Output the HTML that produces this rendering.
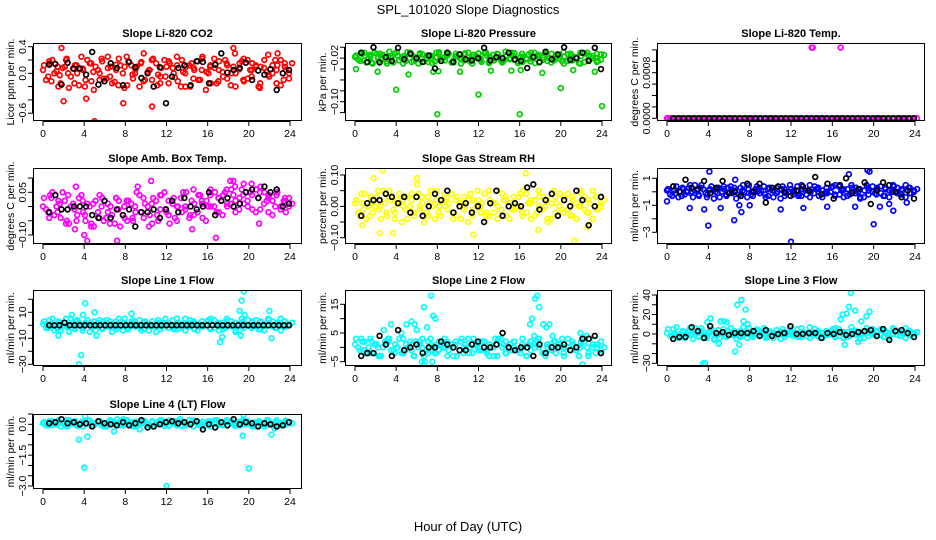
<!DOCTYPE html>
<html><head><meta charset="utf-8"><style>
html,body{margin:0;padding:0;background:#fff}
svg{display:block;font-family:"Liberation Sans",sans-serif}
</style></head><body>
<svg id="c" width="936" height="540" viewBox="0 0 936 540">
<text x="468" y="14" text-anchor="middle" font-size="13">SPL_101020  Slope Diagnostics</text>
<text x="468" y="531" text-anchor="middle" font-size="13">Hour of Day (UTC)</text>
</svg>
<script>
// ---- data ----
const hourTicks = [0,4,8,12,16,20,24];
const titles = ["Slope Li-820 CO2","Slope Li-820 Pressure","Slope Li-820 Temp.","Slope Amb. Box Temp.","Slope Gas Stream RH","Slope Sample Flow","Slope Line 1 Flow","Slope Line 2 Flow","Slope Line 3 Flow","Slope Line 4 (LT) Flow"];
const yTitles = ["Licor ppm per min.","kPa per min.","degrees C per min.","degrees C per min.","percent per min.","ml/min per min.","ml/min per min.","ml/min per min.","ml/min per min.","ml/min per min."];
const colors = ["#ff0000","#00cd00","#ff00ff","#ff00ff","#ffff00","#0000ff","#00ffff","#00ffff","#00ffff","#00ffff"];
const yTickValues = [[0.4,0.2,0,-0.2,-0.4,-0.6],[0,-0.02,-0.04,-0.06,-0.08,-0.1,-0.12],[0,0.0002,0.0004,0.0006,0.0008,0.001,0.0012],[0.1,0.05,0,-0.05,-0.1],[0.1,0.05,0,-0.05,-0.1],[1,0,-1,-2,-3],[20,10,0,-10,-20,-30],[15,10,5,0,-5],[40,30,20,10,0,-10,-20,-30],[0.5,0,-0.5,-1,-1.5,-2,-2.5,-3]];
const yTickLabels = [[["0.4",0.4],["0.0",0],["-0.6",-0.6]],[["-0.02",-0.02],["-0.10",-0.1]],[["0.0000",0],["0.0008",0.0008]],[["0.05",0.05],["-0.10",-0.1]],[["0.10",0.1],["0.00",0],["-0.10",-0.1]],[["1",1],["-1",-1],["-3",-3]],[["10",10],["-10",-10],["-30",-30]],[["15",15],["5",5],["-5",-5]],[["40",40],["20",20],["0",0],["-30",-30]],[["0.0",0],["-1.5",-1.5],["-3.0",-3]]];

const seriesA = [
[0.12,-0.05,0.2,0.03,-0.15,0.1,-0.22,0.07,0.0,0.25,-0.1,0.15,-0.25,0.05,0.18,-0.08,0.1,-0.13,0.22,0.0,-0.18,0.12,0.06,-0.2,0.3,0.02,-0.1,0.15,-0.05,0.2,-0.15,0.08,0.25,-0.2,0.0,0.12,-0.08,0.18,0.05,-0.25,0.1,0.22,-0.12,0.02,0.15,-0.18,0.3,0.06,-0.1,0.2,-0.05,0.12,-0.22,0.08,0.28,0.0,-0.15,0.2,0.1,-0.08],
[-0.015,-0.025,-0.01,-0.02,-0.03,-0.012,-0.022,-0.018,-0.008,-0.028,-0.015,-0.02,-0.025,-0.01,-0.018,-0.03,-0.013,-0.022,-0.017,-0.026,-0.009,-0.02,-0.015,-0.028,-0.012,-0.02,-0.024,-0.01,-0.03,-0.016,-0.021,-0.011,-0.027,-0.014,-0.019,-0.025,-0.008,-0.022,-0.016,-0.029,-0.012,-0.02,-0.026,-0.01,-0.018,-0.023,-0.013,-0.028,-0.017,-0.021,-0.009,-0.025,-0.015,-0.019,-0.03,-0.011,-0.022,-0.016,-0.027,-0.013],
[0,0,0,0,0,0,0,0,0,0,0,0,0,0,0,0,0,0,0,0,0,0,0,0,0,0,0,0,0,0,0,0,0,0,0,0,0,0,0,0,0,0,0,0,0,0,0,0,0,0,0,0,0,0,0,0,0,0,0,0],
[0.03,-0.02,0.05,0.0,-0.04,0.02,-0.06,0.01,-0.03,0.04,-0.05,0.0,-0.07,-0.02,0.03,-0.04,0.0,-0.06,0.02,-0.03,-0.05,0.01,-0.02,0.04,-0.04,0.0,-0.06,0.02,-0.01,0.05,-0.03,0.01,-0.05,0.03,0.0,-0.04,0.06,-0.02,0.02,-0.05,0.04,0.0,0.03,-0.03,0.06,0.01,0.07,-0.01,0.04,0.02,0.08,-0.02,0.05,0.01,0.03,-0.03,0.04,0.0,0.02,0.03],
[0.02,-0.03,0.04,0.0,-0.02,0.03,-0.04,0.01,0.05,-0.01,0.02,-0.05,0.03,0.0,-0.03,0.04,0.01,-0.02,0.05,-0.04,0.0,0.02,-0.01,0.04,-0.03,0.01,0.03,-0.05,0.02,0.0,-0.02,0.04,-0.03,0.01,0.05,-0.01,0.02,-0.04,0.03,0.0,-0.02,0.04,0.01,-0.03,0.05,-0.01,0.02,-0.04,0.03,0.0,-0.02,0.04,-0.03,0.01,0.05,-0.01,0.02,-0.04,0.03,0.0],
[0.2,-0.3,0.4,0.0,-0.2,0.3,-0.4,0.1,0.5,-0.1,0.2,-0.5,0.3,0.0,-0.3,0.4,0.1,-0.2,0.5,-0.4,0.0,0.2,-0.1,0.4,-0.3,0.1,0.3,-0.5,0.2,0.0,-0.2,0.4,-0.3,0.1,0.5,-0.1,0.2,-0.4,0.3,0.0,-0.2,0.4,0.1,-0.3,0.5,-0.1,0.2,-0.4,0.3,0.0,-0.2,0.4,-0.3,0.1,0.5,-0.1,0.2,-0.4,0.3,0.0],
[3,-2,5,0,-4,2,-5,1,4,-1,2,-5,3,0,-3,4,1,-2,5,-4,0,2,-1,4,-3,1,3,-5,2,0,-2,4,-3,1,5,-1,2,-4,3,0,-2,4,1,-3,5,-1,2,-4,3,0,-2,4,-3,1,5,-1,2,-4,3,0],
[3,-1,2,0,-2,1,-3,2,3,-1,0,-2,1,2,-3,0,3,-1,1,-2,2,0,-3,1,2,-1,0,3,-2,1,-1,2,-3,0,1,3,-2,0,2,-1,1,-3,2,0,3,-2,1,-1,2,0,-2,3,1,-1,0,2,-3,1,0,2],
[5,-2,7,0,-4,3,-5,2,6,-1,3,-5,4,0,-3,6,1,-2,7,-4,0,3,-1,6,-3,1,4,-5,2,0,-2,5,-3,1,7,-1,2,-4,3,0,-2,5,1,-3,7,-1,2,-4,3,0,-2,5,-3,1,6,-1,2,-4,3,0],
[0.1,-0.05,0.15,0.0,-0.1,0.1,0.2,0.05,-0.08,0.12,0.0,0.18,-0.05,0.1,0.05,-0.1,0.15,0.0,0.08,-0.06,0.2,0.02,-0.1,0.12,0.05,-0.03,0.15,0.0,0.1,-0.08,0.18,0.05,-0.05,0.12,0.0,0.2,-0.1,0.08,0.03,-0.06,0.15,0.0,0.1,-0.05,0.2,0.05,-0.08,0.12,0.0,0.15,-0.03,0.1,0.05,-0.1,0.18,0.0,0.08,-0.05,0.12,0.05]
];
const seriesB = [
[-0.1,0.15,0.0,-0.2,0.08,0.22,-0.05,0.12,-0.18,0.05,0.2,-0.12,0.1,0.0,-0.08,0.25,-0.15,0.05,0.12,-0.22,0.18,-0.02,0.1,0.15,-0.1,0.05,0.22,-0.18,0.08,-0.05,0.15,0.0,-0.12,0.2,0.1,-0.2,0.05,-0.1,0.25,0.02,-0.15,0.08,0.18,-0.05,0.12,0.0,-0.2,0.15,0.22,-0.08,0.05,0.1,-0.15,0.2,-0.02,0.12,0.05,-0.18,0.15,0.0],
[-0.022,-0.012,-0.028,-0.017,-0.01,-0.025,-0.014,-0.03,-0.019,-0.011,-0.024,-0.016,-0.009,-0.027,-0.02,-0.013,-0.026,-0.015,-0.029,-0.01,-0.021,-0.018,-0.012,-0.025,-0.016,-0.03,-0.011,-0.023,-0.014,-0.02,-0.027,-0.009,-0.018,-0.024,-0.013,-0.028,-0.015,-0.02,-0.011,-0.026,-0.017,-0.022,-0.01,-0.029,-0.014,-0.019,-0.025,-0.012,-0.021,-0.016,-0.03,-0.013,-0.024,-0.018,-0.01,-0.027,-0.015,-0.02,-0.012,-0.023],
[0,0,0,0,0,0,0,0,0,0,0,0,0,0,0,0,0,0,0,0,0,0,0,0,0,0,0,0,0,0,0,0,0,0,0,0,0,0,0,0,0,0,0,0,0,0,0,0,0,0,0,0,0,0,0,0,0,0,0,0],
[-0.01,0.04,-0.03,0.02,0.05,-0.05,0.0,-0.08,0.03,-0.02,0.01,-0.06,0.02,0.04,-0.05,0.01,-0.03,0.03,-0.07,0.0,0.02,-0.04,0.05,-0.02,0.01,-0.07,0.03,-0.03,0.04,-0.01,-0.06,0.03,0.0,-0.02,0.05,-0.03,0.01,0.04,-0.04,0.02,0.0,0.05,-0.02,0.04,0.01,0.06,-0.02,0.03,0.08,0.0,0.04,0.06,-0.01,0.05,-0.02,0.02,0.06,-0.01,0.03,0.0],
[-0.02,0.01,-0.04,0.03,0.0,-0.01,0.05,-0.03,0.02,-0.02,0.04,0.0,-0.04,0.02,0.03,-0.01,-0.05,0.03,0.0,0.02,-0.03,0.04,0.01,-0.02,0.03,-0.04,0.0,0.02,-0.01,0.05,0.01,-0.03,0.02,-0.02,0.0,0.04,-0.03,0.01,-0.01,0.03,0.05,-0.02,-0.04,0.02,0.0,0.03,-0.05,0.01,-0.02,0.04,0.02,-0.01,0.03,-0.04,0.0,0.03,-0.02,0.05,-0.01,0.01],
[-0.2,0.1,-0.4,0.3,0.0,-0.1,0.5,-0.3,0.2,-0.2,0.4,0.0,-0.4,0.2,0.3,-0.1,-0.5,0.3,0.0,0.2,-0.3,0.4,0.1,-0.2,0.3,-0.4,0.0,0.2,-0.1,0.5,0.1,-0.3,0.2,-0.2,0.0,0.4,-0.3,0.1,-0.1,0.3,0.5,-0.2,-0.4,0.2,0.0,0.3,-0.5,0.1,-0.2,0.4,0.2,-0.1,0.3,-0.4,0.0,0.3,-0.2,0.5,-0.1,0.1],
[-2,1,-4,3,0,-1,5,-3,2,-2,4,0,-4,2,3,-1,-5,3,0,2,-3,4,1,-2,3,-4,0,2,-1,5,1,-3,2,-2,0,4,-3,1,-1,3,5,-2,-4,2,0,3,-5,1,-2,4,2,-1,3,-4,0,3,-2,5,-1,1],
[0,2,-2,3,1,-3,0,2,-1,1,3,-2,0,-1,2,1,-3,2,0,-2,1,3,-1,0,-3,2,1,-2,3,0,2,-1,1,-3,3,0,-2,1,2,-1,0,-3,2,1,3,-2,0,-1,2,1,-3,0,2,-1,1,3,-2,0,1,-1],
[-2,1,-4,3,0,-1,6,-3,2,-2,5,0,-4,2,3,-1,-5,3,0,2,-3,5,1,-2,3,-4,0,2,-1,6,1,-3,2,-2,0,5,-3,1,-1,3,6,-2,-4,2,0,3,-5,1,-2,5,2,-1,3,-4,0,3,-2,6,-1,1],
[-0.05,0.12,0.0,0.18,0.05,-0.1,0.08,0.15,-0.03,0.1,0.2,-0.06,0.05,0.12,-0.1,0.0,0.15,0.08,-0.05,0.18,0.02,0.1,-0.08,0.05,0.15,0.0,-0.1,0.12,0.2,0.03,-0.05,0.1,0.15,-0.08,0.05,0.0,0.18,-0.03,0.12,0.08,-0.1,0.2,0.05,0.0,-0.06,0.15,0.1,-0.05,0.18,0.02,0.08,-0.1,0.12,0.0,0.15,-0.05,0.2,0.05,-0.03,0.1]
];
const seriesC = [
[0.05,0.18,-0.12,0.1,-0.03,0.2,0.0,-0.15,0.12,0.07,-0.2,0.15,0.02,-0.1,0.22,0.08,-0.05,0.13,-0.18,0.1,0.25,-0.08,0.0,0.17,-0.12,0.05,0.2,-0.02,-0.15,0.1,0.18,-0.06,0.12,0.02,-0.2,0.15,0.08,-0.1,0.22,0.0,0.12,-0.15,0.05,0.2,-0.08,0.1,0.0,0.18,-0.12,0.05,0.15,-0.2,0.1,0.02,-0.05,0.2,0.12,-0.1,0.05,0.15],
[-0.018,-0.01,-0.024,-0.014,-0.028,-0.02,-0.012,-0.026,-0.016,-0.022,-0.009,-0.03,-0.019,-0.013,-0.025,-0.011,-0.021,-0.027,-0.015,-0.019,-0.012,-0.024,-0.01,-0.028,-0.017,-0.022,-0.013,-0.026,-0.018,-0.011,-0.024,-0.015,-0.029,-0.02,-0.012,-0.025,-0.016,-0.01,-0.023,-0.018,-0.027,-0.013,-0.021,-0.015,-0.028,-0.011,-0.019,-0.024,-0.014,-0.026,-0.017,-0.012,-0.022,-0.029,-0.016,-0.01,-0.023,-0.019,-0.025,-0.014],
[0,0,0,0,0,0,0,0,0,0,0,0,0,0,0,0,0,0,0,0,0,0,0,0,0,0,0,0,0,0,0,0,0,0,0,0,0,0,0,0,0,0,0,0,0,0,0,0,0,0,0,0,0,0,0,0,0,0,0,0],
[0.0,-0.04,0.03,-0.02,0.01,-0.06,0.04,-0.01,-0.05,0.02,-0.03,-0.07,0.01,-0.04,0.0,-0.02,-0.06,0.03,-0.01,-0.04,0.02,-0.05,0.0,-0.02,0.03,-0.03,0.01,-0.05,0.04,-0.02,0.02,-0.04,0.0,0.05,-0.01,0.02,-0.03,0.04,0.01,0.0,0.06,-0.02,0.03,0.05,0.0,0.04,0.02,0.06,0.01,0.05,-0.01,0.03,0.07,0.02,0.04,0.0,0.05,0.02,-0.02,0.01],
[0.01,0.04,-0.01,-0.03,0.02,0.05,0.0,-0.02,0.03,-0.04,0.01,0.02,-0.01,0.04,-0.02,0.0,0.03,-0.03,0.01,0.05,-0.02,0.0,0.03,-0.04,0.02,0.01,-0.01,0.04,-0.03,0.02,0.0,-0.02,0.05,0.01,-0.04,0.02,0.03,-0.01,0.0,0.04,-0.03,0.01,0.02,-0.02,0.03,0.0,-0.04,0.05,0.01,-0.01,0.03,-0.03,0.02,0.0,0.04,-0.02,0.01,0.03,-0.01,0.02],
[0.1,0.4,-0.1,-0.3,0.2,0.5,0.0,-0.2,0.3,-0.4,0.1,0.2,-0.1,0.4,-0.2,0.0,0.3,-0.3,0.1,0.5,-0.2,0.0,0.3,-0.4,0.2,0.1,-0.1,0.4,-0.3,0.2,0.0,-0.2,0.5,0.1,-0.4,0.2,0.3,-0.1,0.0,0.4,-0.3,0.1,0.2,-0.2,0.3,0.0,-0.4,0.5,0.1,-0.1,0.3,-0.3,0.2,0.0,0.4,-0.2,0.1,0.3,-0.1,0.2],
[1,4,-1,-3,2,5,0,-2,3,-4,1,2,-1,4,-2,0,3,-3,1,5,-2,0,3,-4,2,1,-1,4,-3,2,0,-2,5,1,-4,2,3,-1,0,4,-3,1,2,-2,3,0,-4,5,1,-1,3,-3,2,0,4,-2,1,3,-1,2],
[1,3,-1,-2,2,0,-3,1,2,-2,0,3,-1,1,-3,2,0,-2,3,1,-1,0,2,-3,1,3,-2,0,1,-1,2,-2,0,3,-3,1,2,-1,0,-2,3,1,-1,2,0,-3,1,2,-2,3,0,-1,1,-3,2,0,3,-2,1,0],
[1,5,-1,-3,2,6,0,-2,3,-4,1,2,-1,5,-2,0,3,-3,1,6,-2,0,3,-4,2,1,-1,5,-3,2,0,-2,6,1,-4,2,3,-1,0,5,-3,1,2,-2,3,0,-4,6,1,-1,3,-3,2,0,5,-2,1,3,-1,2],
[0.05,0.15,-0.05,0.0,0.1,0.2,-0.08,0.12,0.03,-0.1,0.18,0.05,0.0,0.15,-0.05,0.1,0.2,-0.03,0.08,0.0,0.15,-0.1,0.12,0.05,0.18,-0.06,0.1,0.0,0.2,0.05,-0.08,0.15,0.02,0.12,-0.05,0.1,0.18,0.0,-0.1,0.15,0.05,0.2,-0.03,0.08,0.12,0.0,-0.06,0.18,0.1,0.05,-0.1,0.15,0.02,0.2,0.0,0.12,-0.05,0.08,0.18,0.05]
];
const outlierHours = [
[1.8,2.0,4.2,5.0,7.8,10.6,18.5,22.8],
[0.1,2.2,4.0,5.2,7.6,8.0,8.1,10.2,12.0,13.2,15.2,16.0,16.1,18.2,20.0,21.2,23.3,24.0],
[14.0,14.1,16.8],
[3.2,4.0,4.3,7.2,9.2,10.5,14.5,16.8,18.2,18.5,21.0],
[0.7,1.8,2.4,2.7,3.7,6.0,6.0,11.5,16.6,17.8,21.3,22.6],
[0.0,2.2,3.6,4.0,4.1,5.2,6.5,6.6,7.0,7.2,8.0,11.0,12.0,13.2,15.5,17.6,18.2,19.4,19.6,20.0,20.6,21.5,21.9,23.2],
[1.5,2.8,3.5,3.7,3.9,4.1,5.0,5.2,8.6,17.2,17.4,19.1,19.3,19.5,19.2,22.0,22.2,19.6],
[2.8,3.2,3.5,4.5,5.0,5.5,5.8,6.0,6.5,6.7,6.8,7.0,7.4,7.5,7.6,7.8,17.0,17.2,17.4,17.5,17.7,17.9,18.3,18.6,18.9,19.2,21.9,22.1,22.5],
[3.5,3.7,3.9,4.2,4.6,5.0,5.2,5.5,5.8,6.6,6.8,7.0,7.2,7.4,7.6,7.8,16.8,17.0,17.2,17.4,17.6,17.8,18.2,18.8,19.3,19.6,18.5],
[3.5,4.0,4.1,4.3,6.9,7.2,7.8,9.4,12.0,13.3,19.4,19.5,20.0,22.2,22.5]
];
const outlierValues = [
[0.38,-0.42,-0.38,-0.72,-0.45,-0.5,0.38,0.3],
[-0.04,-0.045,-0.078,-0.05,-0.045,-0.123,-0.044,-0.045,-0.087,-0.043,-0.043,-0.123,-0.042,-0.047,-0.075,-0.042,-0.045,-0.108],
[0.00124,0.00124,0.00124],
[0.07,-0.1,-0.12,-0.12,0.07,0.09,-0.08,-0.11,0.09,0.09,-0.06],
[-0.06,0.09,-0.085,0.115,-0.085,0.09,0.07,-0.09,0.105,-0.075,-0.11,-0.065],
[-0.7,-1.2,-1.3,-2.5,1.5,-1.2,-2.1,0.9,-1.0,-1.5,-1.0,-1.3,-3.7,-1.2,-1.1,1.3,-1.1,1.6,1.5,-2.4,-1.1,-0.9,-1.4,-0.8],
[-8,8,-30,-23,8,17,10,-8,9,-13,-9,11,19,26,-8,11,-10,8],
[6,3,8,5,8,9,8,6,-5,14,-5,7,18,-5,11,10,8,10,4,17,18,14,8,7,8,4,5,-6,4],
[-30,-30,12,16,-6,-10,13,13,12,-18,30,-11,35,13,25,10,15,20,-11,21,28,42,24,13,18,23,-8],
[-0.75,-2.1,0.4,-0.6,-0.35,0.25,0.25,-0.25,-3.0,0.25,-0.55,0.45,-2.15,-0.5,-0.2]
];
const blackSeries = [
[0.13,0.14,-0.17,0.16,0.07,0.07,-0.02,0.32,-0.17,-0.12,0.15,0.08,-0.18,0.17,0.09,-0.07,0.0,-0.2,0.09,-0.45,-0.05,0.08,0.12,-0.18,0.18,0.17,-0.15,0.13,0.3,0.01,0.05,0.08,0.16,-0.1,0.04,-0.02,0.06,-0.25,0.0,0.05],
[-0.01,-0.027,0.0,-0.028,-0.018,-0.025,-0.001,-0.022,-0.012,-0.02,-0.027,-0.015,-0.039,-0.025,-0.01,-0.027,-0.013,-0.022,-0.024,-0.02,-0.001,-0.024,-0.018,-0.02,-0.01,-0.022,-0.025,-0.038,-0.018,-0.027,-0.008,-0.022,-0.013,0.0,-0.023,-0.02,-0.01,-0.025,-0.001,-0.04],
[0,0,0,0,0,0,0,0,0,0,0,0,0,0,0,0,0,0,0,0,0,0,0,0,0,0,0,0,0,0,0,0,0,0,0,0,0,0,0,0,0,0,0,0,0,0,0,0],
[-0.02,0.04,-0.01,-0.01,0.0,0.0,0.0,-0.03,-0.04,0.02,-0.04,-0.01,-0.03,-0.01,-0.07,-0.02,-0.02,-0.01,-0.04,-0.01,0.02,-0.02,0.03,0.0,-0.01,0.0,0.05,-0.03,0.02,0.03,0.0,0.01,0.05,0.06,0.03,0.07,0.05,0.06,0.0,0.01],
[-0.03,0.01,0.02,0.02,0.04,0.03,0.01,0.03,-0.02,0.03,-0.03,0.0,0.04,0.02,0.05,-0.02,0.0,0.01,-0.02,0.0,-0.05,0.01,0.05,-0.03,0.0,0.01,0.0,0.06,0.07,-0.01,0.02,0.04,-0.03,0.02,0.0,0.05,0.02,-0.06,0.0,0.03],
[0.4,0.0,0.9,0.3,0.2,0.8,-0.1,0.3,0.8,-0.1,0.0,-0.3,0.6,0.0,0.6,-0.8,0.3,0.4,0.0,-0.3,0.1,0.4,0.1,1.1,-0.2,0.6,-0.5,0.5,1.0,-0.1,0.2,0.7,-0.9,0.1,0.7,0.5,0.0,-0.4,0.1,-0.5],
[0,0,0,2,0,0,0,0,0,0,0,0,0,0,0,0,0,0,0,0,0,0,0,0,0,0,0,0,0,0,0,0,0,0,0,0,0,0,0,0,0,0,0,0,0,0,0,0],
[-3,-2,-2,4,1,-3,6,-1,0,1,-2,0,0,2,1,0,-1,-1,1,2,0,0,1,5,0,-1,0,0,-3,1,-2,0,0,1,-1,0,3,3,4,-2],
[-5,-3,-3,7,3,-4,8,1,2,-1,1,1,1,3,-2,4,-2,0,1,8,0,0,1,1,-4,1,0,2,-1,0,2,3,4,-2,5,-6,3,4,1,-3],
[0.05,0.1,0.25,0.05,0.1,0.0,0.05,-0.1,0.15,0.05,0.0,-0.05,0.1,-0.05,0.05,0.2,-0.15,-0.1,0.0,0.1,0.15,0.05,0.1,0.0,0.15,-0.25,0.0,-0.15,0.1,-0.05,0.25,0.0,0.1,0.05,-0.1,0.05,0.0,-0.1,-0.05,0.1]
];

// ---- layout (pixels, not data) ----
const cols = [{l:33,r:302,x0:43,x24:290},{l:345,r:612,x0:355,x24:602},{l:657,r:925,x0:667,x24:915}];
const rows = [{t:43,b:121},{t:168,b:244},{t:290,b:366},{t:414,b:489}];
const yAnchors = [
 [0.4,46.7,0,73.3],[0,47.3,-0.1,101.7],[0,118.3,0.0012,49.9],[0.05,192.3,-0.1,235],[0.1,175,-0.1,237.7],
 [1,178.3,-3,232.3],[10,312.3,-30,364.3],[15,304.3,-5,361.7],[40,295,-30,363.3],[0,424.3,-3,486]];

const NS="http://www.w3.org/2000/svg";
const svg=document.getElementById('c');
function mk(tag,attrs,parent){const e=document.createElementNS(NS,tag);for(const k in attrs)e.setAttribute(k,attrs[k]);(parent||svg).appendChild(e);return e;}

titles.forEach((title,p)=>{
  const col=cols[p%3], row=rows[Math.floor(p/3)];
  const a=yAnchors[p];
  const xs=h=>col.x0+(h/24)*(col.x24-col.x0);
  const ys=v=>a[1]+(v-a[0])*(a[3]-a[1])/(a[2]-a[0]);
  const g=mk('g',{});
  
  
  const tt=mk('text',{x:(col.l+col.r)/2,y:row.t-6,'text-anchor':'middle','font-size':'11','font-weight':'bold'},g);
  tt.textContent=title;
  
  
  const yt=mk('text',{transform:`translate(${col.l-19},${(row.t+row.b)/2}) rotate(-90)`,'text-anchor':'middle','font-size':'10.5'},g);
  yt.textContent=yTitles[p];
  
  
  const ax=mk('g',{stroke:'#000','stroke-width':'1',fill:'none'},g);
  
  
  mk('line',{x1:xs(0),x2:xs(24),y1:row.b+0.5,y2:row.b+0.5},ax);
  hourTicks.forEach(h=>{
    mk('line',{x1:xs(h),x2:xs(h),y1:row.b,y2:row.b+5},ax);
    const t=mk('text',{x:xs(h),y:row.b+16,'text-anchor':'middle','font-size':'10.5'},g);
    t.textContent=String(h);
    
    
  });
  const tv=yTickValues[p];
  mk('line',{x1:col.l-0.5,x2:col.l-0.5,y1:ys(tv[0]),y2:ys(tv[tv.length-1])},ax);
  tv.forEach(v=>mk('line',{x1:col.l-5,x2:col.l,y1:ys(v),y2:ys(v)},ax));
  yTickLabels[p].forEach(([lab,v])=>{
    const t=mk('text',{transform:`translate(${col.l-7},${ys(v)}) rotate(-90)`,'text-anchor':'middle','font-size':'10.5'},g);
    t.textContent=lab.replace('-','\u2212');
    
    
  });
  const clip='clip'+p;
  const cp=mk('clipPath',{id:clip},g);
  mk('rect',{x:col.l,y:row.t,width:col.r-col.l,height:row.b-row.t},cp);
  const pts=mk('g',{fill:'none','stroke-width':'1.7','clip-path':`url(#${clip})`},g);
  
  
  function dot(h,v,color,name){
    const c=mk('circle',{cx:xs(h).toFixed(1),cy:ys(v).toFixed(1),r:'2.4',stroke:color},pts);
    
    
  }
  const A=seriesA[p],B=seriesB[p],C=seriesC[p];
  A.forEach((v,i)=>dot(0.1+i*23.8/(A.length-1),v,colors[p],'point-a'));
  B.forEach((v,i)=>dot(0.3+i*23.6/(B.length-1),v,colors[p],'point-b'));
  C.forEach((v,i)=>dot(0.0+i*24/(C.length-1)+0.2*(i%2),v,colors[p],'point-c'));
  outlierHours[p].forEach((h,i)=>dot(h,outlierValues[p][i],colors[p],'point-outlier'));
  const K=blackSeries[p];
  K.forEach((v,i)=>dot(0.6+i*23.3/(K.length-1),v,'#000','point-mean'));
  const box=mk('rect',{x:col.l+0.5,y:row.t+0.5,width:col.r-col.l-1,height:row.b-row.t-1,fill:'none',stroke:'#000','stroke-width':'1'},g);
  
  
});
</script>
</body></html>
